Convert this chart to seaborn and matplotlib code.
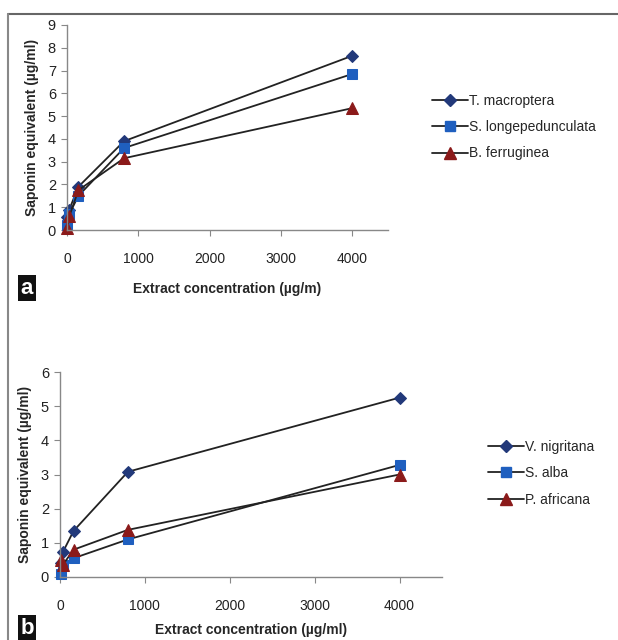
import pandas as pd
import numpy as np
import matplotlib
matplotlib.use("Agg")
import matplotlib.pyplot as plt
import seaborn as sns
from matplotlib.lines import Line2D

sns.set_style("white")
plt.rcParams['font.family'] = ['Liberation Sans', 'DejaVu Sans']

# extract concentrations (5-fold dilution series)
conc = [6.4, 32, 160, 800, 4000]

# panel a
names_a = ["T. macroptera", "S. longepedunculata", "B. ferruginea"]
t_macroptera = [0.55, 0.9, 1.9, 3.9, 7.65]
s_longeped = [0.2, 0.7, 1.5, 3.6, 6.85]
b_ferruginea = [0.1, 0.6, 1.75, 3.15, 5.35]

# panel b
names_b = ["V. nigritana", "S. alba", "P. africana"]
v_nigritana = [0.4, 0.72, 1.35, 3.08, 5.25]
s_alba = [0.1, 0.35, 0.55, 1.1, 3.28]
p_africana = [0.5, 0.35, 0.8, 1.38, 3.0]

markers = ["D", "s", "^"]
mcolors = ["#22397a", "#1f5fbf", "#8b1a1a"]
msizes = [6.5, 7.5, 8.5]

fig = plt.figure(figsize=(6.18, 6.40), dpi=100)

def panel(rect, series, names, ymax, xlabel, xlpad, letter, letter_y, leg_x, leg_y):
    ax = fig.add_axes(rect)
    for vals, nm, mk, mc, ms in zip(series, names, markers, mcolors, msizes):
        df = pd.DataFrame({"x": conc, "y": vals})
        sns.lineplot(data=df, x="x", y="y", ax=ax, color="#222222", lw=1.3,
                     marker=mk, markersize=ms, markerfacecolor=mc,
                     markeredgecolor=mc, label=nm, legend=False)
    ax.set_xlim(0, 4500)
    ax.set_ylim(0, ymax)
    ax.set_xticks([0, 1000, 2000, 3000, 4000])
    ax.set_yticks(range(0, ymax + 1))
    for s in ["top", "right"]:
        ax.spines[s].set_visible(False)
    for s in ["left", "bottom"]:
        ax.spines[s].set_color("#888888")
        ax.spines[s].set_linewidth(1.0)
    ax.tick_params(axis="x", direction="out", length=4, color="#888888",
                   pad=12, labelsize=10, labelcolor="#222222", bottom=True)
    ax.tick_params(axis="y", direction="out", length=4, color="#888888",
                   pad=4, labelsize=10.5, labelcolor="#222222", left=True)
    ax.set_xlabel(xlabel, fontsize=10, fontweight="bold", labelpad=xlpad)
    ax.set_ylabel("Saponin equivalent (µg/ml)", fontsize=10, fontweight="bold", labelpad=6)
    ax.margins(0)
    for ln in ax.lines:
        ln.set_clip_on(False)
    fig.text(27 / 618, 1 - letter_y / 640, letter, color="white", fontsize=16,
             fontweight="bold", ha="center", va="center",
             bbox=dict(facecolor="#111111", edgecolor="none", boxstyle="square,pad=0.12"))
    handles = [Line2D([0], [0], color="#222222", lw=1.3, marker=mk, markersize=ms,
                      markerfacecolor=mc, markeredgecolor=mc)
               for mk, mc, ms in zip(markers, mcolors, msizes)]
    fig.legend(handles, names, loc="center left",
               bbox_to_anchor=(leg_x / 618, 1 - leg_y / 640), frameon=False,
               fontsize=10, handlelength=2.6, handletextpad=0.1, labelspacing=0.9)
    return ax

panel([67 / 618, 1 - 230 / 640, 321 / 618, 205 / 640],
      [t_macroptera, s_longeped, b_ferruginea], names_a, 9,
      "Extract concentration (µg/m)", 11, "a", 288, 419, 127)
panel([60 / 618, 1 - 577 / 640, 382 / 618, 205 / 640],
      [v_nigritana, s_alba, p_africana], names_b, 6,
      "Extract concentration (µg/ml)", 7, "b", 628, 475, 473)

# figure frame lines
fig.add_artist(Line2D([8 / 618, 1], [1 - 14 / 640, 1 - 14 / 640], color="#666666", lw=1.5,
                      transform=fig.transFigure))
fig.add_artist(Line2D([8 / 618, 8 / 618], [0, 1 - 14 / 640], color="#888888", lw=1.5,
                      transform=fig.transFigure))

fig.savefig("out.png", dpi=100)
